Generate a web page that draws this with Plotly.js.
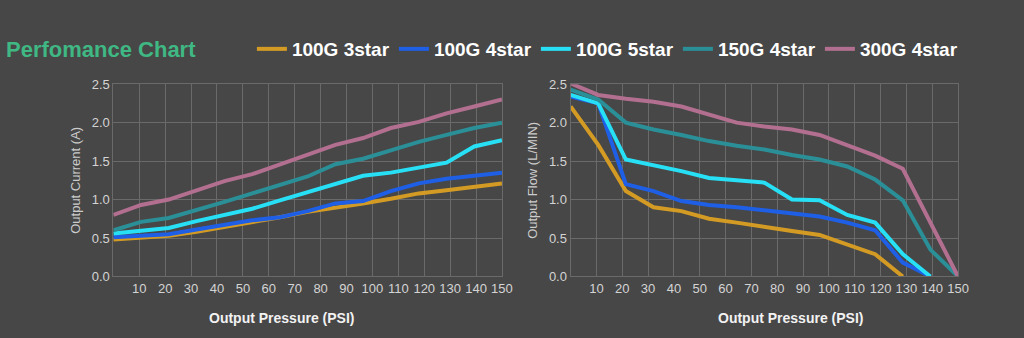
<!DOCTYPE html>
<html>
<head>
<meta charset="utf-8">
<script src="https://cdn.plot.ly/plotly-3.0.1.min.js"></script>
<style>
html,body{margin:0;padding:0;background:#474747;}
#chart{width:1024px;height:338px;}
</style>
</head>
<body>
<div id="chart"></div>
<script>
// Pressure (PSI) sample positions
const PRESSURE = [0, 10.7, 21.4, 32.1, 42.9, 53.6, 64.3, 75, 85.7, 96.4, 107.1, 117.9, 128.6, 139.3, 150];
const X_TICKS = [10, 20, 30, 40, 50, 60, 70, 80, 90, 100, 110, 120, 130, 140, 150];
const SERIES_NAMES = ['100G 3star', '100G 4star', '100G 5star', '150G 4star', '300G 4star'];
const SERIES_COLORS = ['#d49b24', '#1e5fe6', '#27e0f5', '#2b8f98', '#b26f8f'];

// Output current (A)
const CURRENT_100G_3 = [0.48, 0.51, 0.53, 0.58, 0.64, 0.71, 0.77, 0.84, 0.89, 0.95, 1.01, 1.08, 1.12, 1.17, 1.21];
const CURRENT_100G_4 = [0.51, 0.53, 0.55, 0.61, 0.67, 0.73, 0.77, 0.85, 0.95, 0.98, 1.11, 1.21, 1.27, 1.31, 1.35];
const CURRENT_100G_5 = [0.56, 0.60, 0.63, 0.72, 0.80, 0.88, 0.99, 1.10, 1.21, 1.31, 1.35, 1.41, 1.48, 1.69, 1.77];
const CURRENT_150G_4 = [0.60, 0.71, 0.76, 0.86, 0.97, 1.08, 1.19, 1.30, 1.46, 1.53, 1.64, 1.75, 1.84, 1.93, 2.00];
const CURRENT_300G_4 = [0.80, 0.93, 1.00, 1.12, 1.24, 1.33, 1.46, 1.58, 1.71, 1.80, 1.93, 2.01, 2.12, 2.21, 2.30];

// Output flow (L/MIN)
const FLOW_100G_3 = [2.21, 1.71, 1.11, 0.90, 0.85, 0.75, 0.70, 0.64, 0.59, 0.54, 0.42, 0.29, 0.00, null, null];
const FLOW_100G_4 = [2.34, 2.25, 1.20, 1.11, 0.98, 0.93, 0.90, 0.86, 0.83, 0.78, 0.70, 0.60, 0.18, 0.00, null];
const FLOW_100G_5 = [2.36, 2.25, 1.52, 1.45, 1.37, 1.28, 1.25, 1.22, 1.00, 0.99, 0.80, 0.70, 0.29, 0.00, null];
const FLOW_150G_4 = [2.43, 2.30, 2.00, 1.91, 1.84, 1.76, 1.70, 1.65, 1.58, 1.52, 1.43, 1.26, 0.99, 0.35, 0.00];
const FLOW_300G_4 = [2.51, 2.36, 2.31, 2.27, 2.21, 2.10, 2.00, 1.95, 1.91, 1.84, 1.71, 1.57, 1.40, 0.70, 0.00];

const currentSets = [CURRENT_100G_3, CURRENT_100G_4, CURRENT_100G_5, CURRENT_150G_4, CURRENT_300G_4];
const flowSets = [FLOW_100G_3, FLOW_100G_4, FLOW_100G_5, FLOW_150G_4, FLOW_300G_4];

const traces = [];
currentSets.forEach((ys, i) => {
  traces.push({
    x: PRESSURE, y: ys, type: 'scatter', mode: 'lines',
    name: SERIES_NAMES[i], legendgroup: SERIES_NAMES[i],
    line: {color: SERIES_COLORS[i], width: 4},
    xaxis: 'x', yaxis: 'y', showlegend: true
  });
});
flowSets.forEach((ys, i) => {
  traces.push({
    x: PRESSURE, y: ys, type: 'scatter', mode: 'lines',
    name: SERIES_NAMES[i], legendgroup: SERIES_NAMES[i],
    line: {color: SERIES_COLORS[i], width: 4},
    xaxis: 'x2', yaxis: 'y2', showlegend: false, connectgaps: false
  });
});

const GRID = '#6a6a6a';
const FONT = 'Liberation Sans, Arial, sans-serif';
const TICKFONT = {family: FONT, size: 13, color: '#d4d4d4'};
function xAxis(domain, anchor) {
  return {
    domain: domain, anchor: anchor, range: [0, 150], tickvals: X_TICKS, ticktext: X_TICKS.map(String),
    showgrid: true, gridcolor: GRID, gridwidth: 1, zeroline: false,
    showline: true, linecolor: GRID, linewidth: 1, mirror: true,
    ticks: '', tickfont: TICKFONT, fixedrange: true, automargin: false
  };
}
function yAxis(anchor, title, standoff) {
  return {
    domain: [0.182, 0.751], anchor: anchor, range: [0, 2.5], dtick: 0.5, tick0: 0, tickformat: '.1f',
    showgrid: true, gridcolor: GRID, gridwidth: 1, zeroline: false,
    showline: true, linecolor: GRID, linewidth: 1, mirror: true,
    ticks: '', tickfont: TICKFONT, fixedrange: true, automargin: false,
    title: {text: title, standoff: standoff, font: {family: FONT, size: 13, color: '#cccccc'}}
  };
}

const layout = {
  width: 1024, height: 338,
  paper_bgcolor: '#474747', plot_bgcolor: '#474747',
  margin: {l: 0, r: 0, t: 0, b: 0, autoexpand: false},
  font: {family: FONT, color: '#ffffff'},
  xaxis: xAxis([0.1107, 0.4902], 'y'),
  yaxis: yAxis('x', 'Output Current (A)', 8),
  xaxis2: xAxis([0.5572, 0.9356], 'y2'),
  yaxis2: yAxis('x2', 'Output Flow (L/MIN)', 8),
  showlegend: true,
  legend: {
    orientation: 'h', x: 0.246, y: 0.855, xanchor: 'left', yanchor: 'middle',
    font: {family: FONT, size: 19, color: '#ffffff', weight: 'bold'},
    bgcolor: 'rgba(0,0,0,0)', entrywidth: 97, itemwidth: 30, tracegroupgap: 0
  },
  annotations: [
    {text: '<b>Perfomance Chart</b>', xref: 'paper', yref: 'paper', x: 0.004, y: 0.855,
     xanchor: 'left', yanchor: 'middle', showarrow: false,
     font: {family: FONT, size: 22, color: '#3fb884'}},
    {text: '<b>Output Pressure (PSI)</b>', xref: 'paper', yref: 'paper', x: 0.2745, y: 0.059,
     xanchor: 'center', yanchor: 'middle', showarrow: false,
     font: {family: FONT, size: 14, color: '#f2f2f2'}},
    {text: '<b>Output Pressure (PSI)</b>', xref: 'paper', yref: 'paper', x: 0.7715, y: 0.059,
     xanchor: 'center', yanchor: 'middle', showarrow: false,
     font: {family: FONT, size: 14, color: '#f2f2f2'}}
  ]
};

Plotly.newPlot('chart', traces, layout, {displayModeBar: false, staticPlot: true});
</script>
</body>
</html>
